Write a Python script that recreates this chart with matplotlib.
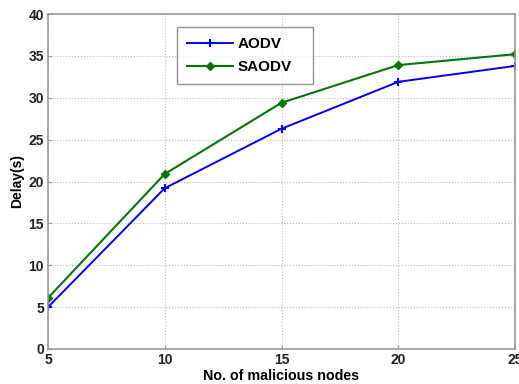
import matplotlib
matplotlib.use("Agg")
import matplotlib.pyplot as plt

nodes = [5, 10, 15, 20, 25]
aodv = [5.0, 19.2, 26.3, 31.9, 33.8]
saodv = [6.1, 20.9, 29.4, 33.9, 35.2]
xticks = [5, 10, 15, 20, 25]
yticks = [0, 5, 10, 15, 20, 25, 30, 35, 40]

plt.rcParams['font.family'] = ['Liberation Sans', 'DejaVu Sans']
plt.rcParams['font.weight'] = 'bold'

fig = plt.figure(figsize=(5.19, 3.84), dpi=100)
L, R, T, B = 48, 515, 14, 349
ax = fig.add_axes([L/519, 1 - B/384, (R-L)/519, (B-T)/384])

ax.plot(nodes, aodv, color='#0000ff', marker='+', markersize=6, mew=1.5, lw=1.4, label='AODV')
ax.plot(nodes, saodv, color='#007a00', marker='D', markersize=4, lw=1.5, label='SAODV')

ax.set_xlim(5, 25)
ax.set_ylim(0, 40)
ax.set_xticks(xticks)
ax.set_yticks(yticks)
ax.tick_params(direction='in', length=3, labelsize=10, labelcolor='#222222', pad=3)
for lab in ax.get_xticklabels() + ax.get_yticklabels():
    lab.set_fontweight('bold')
for s in ax.spines.values():
    s.set_color('#999999')
    s.set_linewidth(1.2)
ax.tick_params(color='#999999')
ax.grid(True, linestyle=':', color='#bbbbbb', linewidth=0.8)

ax.set_xlabel('No. of malicious nodes', fontsize=10.3, fontweight='bold', labelpad=1)
ax.set_ylabel('Delay(s)', fontsize=10, fontweight='bold', labelpad=3)

bx0 = (177 - L) / (R - L)
bw = (313 - 177) / (R - L)
by1 = 1 - (27 - T) / (B - T)
bh = (81 - 27) / (B - T)
leg = ax.legend(loc='upper left', bbox_to_anchor=(bx0, by1 - bh, bw, bh), mode='expand',
                borderaxespad=0, fancybox=False, edgecolor='#777777', fontsize=11,
                handlelength=3.0, handletextpad=0.3, borderpad=0.65, labelspacing=0.62)
leg.get_frame().set_linewidth(1.0)
for t in leg.get_texts():
    t.set_fontweight('bold')

fig.savefig('out.png', dpi=100)
